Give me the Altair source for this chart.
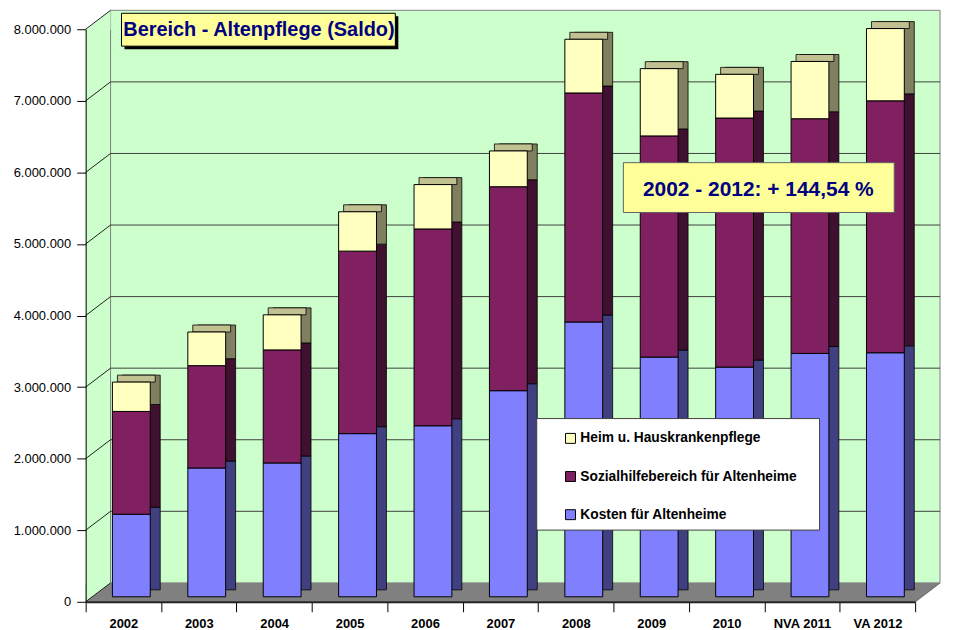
import altair as alt
import pandas as pd

# ---------------- data ----------------
cats = ["2002", "2003", "2004", "2005", "2006", "2007", "2008", "2009", "2010", "NVA 2011", "VA 2012"]
kosten = [1154000, 1800000, 1870000, 2280000, 2390000, 2880000, 3840000, 3350000, 3210000, 3400000, 3410000]
sozial = [1436000, 1430000, 1580000, 2550000, 2750000, 2850000, 3200000, 3090000, 3480000, 3280000, 3520000]
heim = [410000, 470000, 490000, 550000, 620000, 500000, 750000, 940000, 610000, 800000, 1010000]
series = ["Kosten für Altenheime", "Sozialhilfebereich für Altenheime", "Heim u. Hauskrankenpflege"]
legend_order = ["Heim u. Hauskrankenpflege", "Sozialhilfebereich für Altenheime", "Kosten für Altenheime"]
y_ticks = [0, 1000000, 2000000, 3000000, 4000000, 5000000, 6000000, 7000000, 8000000]
title_text = "Bereich - Altenpflege (Saldo)"
note_text = "2002 - 2012: + 144,54 %"

# ---------------- styling ----------------
front_colors = {"Kosten für Altenheime": "#8080FF",
                "Sozialhilfebereich für Altenheime": "#802060",
                "Heim u. Hauskrankenpflege": "#FFFFC0"}
side_colors = {"Kosten für Altenheime": "#404080",
               "Sozialhilfebereich für Altenheime": "#401030",
               "Heim u. Hauskrankenpflege": "#808060"}
top_color = "#C0C090"
WALL = "#CCFFCC"
FONT = "Liberation Sans"

W, H = 833, 575
DX, DY = 25, 19      # depth of walls
BX, BY = 10, 7       # depth of bars
FX, FY = 8, 5        # front face offset of bars
BW = 38              # bar width

rows = []
for i, c in enumerate(cats):
    base = 0
    for s, vals in zip(series, [kosten, sozial, heim]):
        v = vals[i]
        rows.append(dict(cat=c, series=s, lo=base, hi=base + v, side=side_colors[s]))
        base += v
bars = pd.DataFrame(rows)
tops = pd.DataFrame({"cat": cats, "total": [k + s + h for k, s, h in zip(kosten, sozial, heim)]})
frame = pd.DataFrame({"top": [y_ticks[-1]], "bottom": [y_ticks[0]]})
ticks_df = pd.DataFrame({"v": y_ticks})
grid_df = pd.DataFrame({"v": y_ticks[1:-1]})
info = pd.DataFrame({"title": [title_text], "note": [note_text]})

y_scale = alt.Scale(domain=[0, 8000000], nice=False)
y_axis = alt.Axis(title=None, values=y_ticks, format=",d", labelFont=FONT, labelFontSize=13,
                  labelColor="black", tickSize=9, tickColor="black", domainColor="black",
                  labelPadding=6, grid=False, zindex=1)
x_enc = alt.X("cat:N", sort=cats, scale=alt.Scale(paddingInner=0, paddingOuter=0),
              axis=alt.Axis(title=None, labelAngle=0, labelFont=FONT, labelFontSize=13,
                            labelFontWeight="bold", labelColor="black", labelPadding=6,
                            tickBand="extent", tickSize=10, tickColor="black",
                            domainColor="#202020", domainWidth=2, zindex=1))


def Y(field):
    return alt.Y(field, scale=y_scale, axis=y_axis)


def corner(path, fill, xv, yv):
    # small wall-corner triangle drawn as a custom symbol (size=4 -> path units are pixels)
    return alt.Chart(info).mark_point(shape=path, size=4, filled=True, fill=fill, opacity=1,
                                      strokeWidth=0).encode(x=alt.value(xv), y=alt.value(yv))


left_wall = alt.Chart(frame).mark_rect(fill=WALL).encode(
    x=alt.value(0), x2=alt.value(DX), y=Y("top:Q"), y2="bottom:Q")
back_wall = alt.Chart(frame).mark_rect(fill=WALL, stroke="#808080", strokeWidth=1,
                                       yOffset=-DY, y2Offset=-DY).encode(
    x=alt.value(DX), x2=alt.value(W + DX), y=Y("top:Q"), y2="bottom:Q")
top_corner = corner(f"M0,0.5 L{DX},-{DY} L{DX},0.5 Z", WALL, 0, 0)
floor = alt.Chart(frame).mark_rect(fill="#808080", y2Offset=-DY).encode(
    x=alt.value(0), x2=alt.value(W + DX), y=Y("bottom:Q"), y2="bottom:Q")
floor_left = corner(f"M0,-{DY} L{DX},-{DY} L0,0 Z", WALL, 0, H)
floor_right = corner(f"M0,0 L{DX},-{DY} L{DX + 2},-{DY} L{DX + 2},2 L0,2 Z", "white", W, H)
grid = alt.Chart(grid_df).mark_rule(color="#404040", strokeWidth=1, yOffset=-DY).encode(
    x=alt.value(DX), x2=alt.value(W + DX), y=Y("v:Q"))
diag = alt.Chart(ticks_df).mark_rule(color="#202020", strokeWidth=1, y2Offset=-DY).encode(
    x=alt.value(0), x2=alt.value(DX), y=Y("v:Q"), y2="v:Q")
floor_edge = alt.Chart(frame).mark_rule(color="#707070", strokeWidth=1.2, y2Offset=-DY).encode(
    x=alt.value(W), x2=alt.value(W + DX), y=Y("bottom:Q"), y2="bottom:Q")

side = alt.Chart(bars).mark_bar(width=BW, xOffset=FX + BX, yOffset=-FY - BY, y2Offset=-FY - BY,
                                stroke="black", strokeWidth=0.8).encode(
    x=x_enc, y=Y("hi:Q"), y2="lo:Q", fill=alt.Fill("side:N", scale=None))
cap = alt.Chart(tops).mark_bar(width=BW, xOffset=FX + BX / 2, yOffset=-FY, y2Offset=-FY - BY,
                               fill=top_color, stroke="black", strokeWidth=0.8).encode(
    x=x_enc, y=Y("total:Q"), y2="total:Q")
front = alt.Chart(bars).mark_bar(width=BW, xOffset=FX, yOffset=-FY, y2Offset=-FY,
                                 stroke="black", strokeWidth=1).encode(
    x=x_enc, y=Y("hi:Q"), y2="lo:Q",
    fill=alt.Fill("series:N",
                  scale=alt.Scale(domain=legend_order, range=[front_colors[s] for s in legend_order]),
                  legend=alt.Legend(title=None, orient="none", legendX=480, legendY=404, padding=0,
                                    symbolType="square", symbolSize=100, symbolStrokeColor="black",
                                    symbolStrokeWidth=1, labelFont=FONT, labelFontSize=13.8,
                                    labelFontWeight="bold", labelColor="black", rowPadding=23.3,
                                    labelOffset=3, labelLimit=400)))

title_shadow = alt.Chart(info).mark_rect(fill="black").encode(
    x=alt.value(39), x2=alt.value(314), y=alt.value(-13), y2=alt.value(20))
title_box = alt.Chart(info).mark_rect(fill="#FFFF99", stroke="black", strokeWidth=1).encode(
    x=alt.value(36), x2=alt.value(311), y=alt.value(-16), y2=alt.value(17))
title_txt = alt.Chart(info).mark_text(font=FONT, fontSize=20, fontWeight="bold", color="#000080",
                                      align="center", baseline="alphabetic").encode(
    x=alt.value(174), y=alt.value(7), text="title:N")
note_box = alt.Chart(info).mark_rect(fill="#FFFF99", stroke="#606060", strokeWidth=1).encode(
    x=alt.value(540), x2=alt.value(812), y=alt.value(134), y2=alt.value(184))
note_txt = alt.Chart(info).mark_text(font=FONT, fontSize=21, fontWeight="bold", color="#000080",
                                     align="center", baseline="alphabetic").encode(
    x=alt.value(675.5), y=alt.value(167), text="note:N")
legend_box = alt.Chart(info).mark_rect(fill="white", stroke="#404040", strokeWidth=1).encode(
    x=alt.value(453), x2=alt.value(737), y=alt.value(391), y2=alt.value(503))

chart = alt.layer(
    left_wall, back_wall, top_corner, floor, floor_left, floor_right,
    grid, diag, floor_edge,
    side, cap, front,
    title_shadow, title_box, title_txt, note_box, note_txt, legend_box
).properties(
    width=W, height=H,
    padding={"left": 78, "top": 20, "right": 30, "bottom": 28},
    autosize=alt.AutoSizeParams(type="none"),
).configure(
    locale={"number": {"decimal": ",", "thousands": ".", "grouping": [3], "currency": ["", " €"]}},
).configure_view(strokeWidth=0)

chart.save("out.html", embed_options={"renderer": "svg", "actions": False})
